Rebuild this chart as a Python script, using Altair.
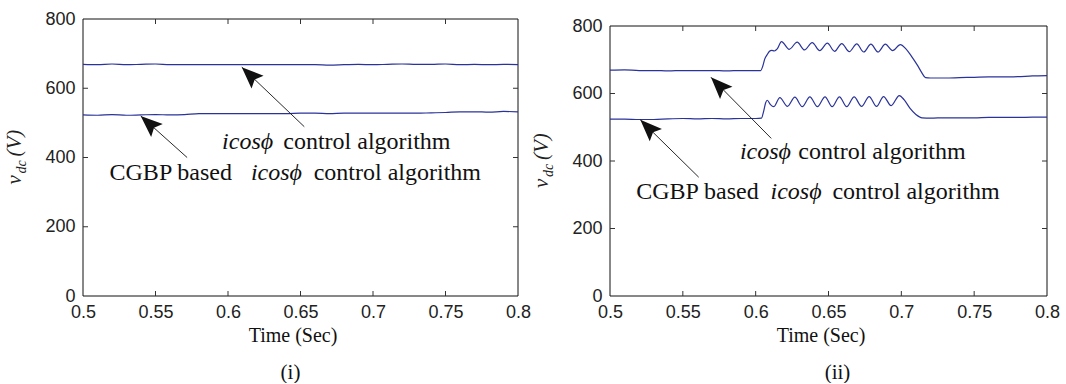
import math
import altair as alt
import pandas as pd

# ---------------- data ----------------
X_TICKS = [0.5, 0.55, 0.6, 0.65, 0.7, 0.75, 0.8]
Y_TICKS = [0, 200, 400, 600, 800]

# panel (i)
T_I = [0.50, 0.51, 0.52, 0.53, 0.54, 0.55, 0.56, 0.57, 0.58, 0.59, 0.60, 0.61, 0.62, 0.63, 0.64, 0.65,
       0.66, 0.67, 0.68, 0.69, 0.70, 0.71, 0.72, 0.73, 0.74, 0.75, 0.76, 0.77, 0.78, 0.79, 0.80]
VI_UP = [669, 668, 670, 668, 669, 670, 668, 668, 668, 668, 668, 668, 668, 668, 668, 668,
         668, 667, 668, 669, 668, 669, 670, 669, 669, 670, 668, 669, 668, 669, 668]
VI_LO = [523, 522, 524, 522, 523, 524, 523, 524, 527, 527, 527, 527, 527, 527, 527, 528,
         528, 527, 528, 528, 528, 528, 528, 528, 529, 530, 532, 532, 531, 533, 532]

# panel (ii)
T_II_UP = [0.50, 0.51, 0.52, 0.53, 0.54, 0.55, 0.56, 0.57, 0.58, 0.59, 0.60, 0.6035,
           0.6048, 0.6062, 0.6080, 0.6095, 0.6110, 0.6128, 0.6148, 0.6177,
           0.6230, 0.6285, 0.6335, 0.6388, 0.6440, 0.6492, 0.6542, 0.6591, 0.6643, 0.6694,
           0.6742, 0.6791, 0.6840, 0.6890, 0.6940, 0.6993,
           0.7030, 0.7070, 0.7110, 0.7140, 0.7166,
           0.72, 0.73, 0.74, 0.75, 0.76, 0.77, 0.78, 0.79, 0.80]
V_II_UP = [669, 670, 668, 668, 667, 668, 668, 668, 667, 668, 668, 668,
           680, 702, 716, 725, 728, 726, 732, 754,
           731, 752, 729, 751, 727, 749, 725, 748, 724, 747,
           723, 746, 723, 746, 727, 745,
           733, 710, 684, 662, 647,
           646, 646, 647, 648, 649, 649, 650, 652, 653]
T_II_LO = [0.50, 0.51, 0.52, 0.53, 0.54, 0.55, 0.56, 0.57, 0.58, 0.59, 0.60, 0.6040,
           0.6055, 0.6068, 0.6080, 0.6100, 0.6125, 0.6166,
           0.6218, 0.6269, 0.6320, 0.6372, 0.6424, 0.6476, 0.6525, 0.6575, 0.6625, 0.6676,
           0.6727, 0.6779, 0.6830, 0.6878, 0.6930, 0.6986,
           0.7020, 0.7060, 0.7100, 0.7143,
           0.72, 0.73, 0.74, 0.75, 0.76, 0.77, 0.78, 0.79, 0.80]
V_II_LO = [524, 524, 523, 523, 525, 526, 525, 526, 525, 526, 526, 527,
           548, 572, 580, 568, 561, 588,
           562, 589, 561, 590, 561, 590, 561, 590, 561, 590,
           562, 591, 562, 591, 564, 594,
           581, 556, 538, 528,
           527, 528, 528, 528, 529, 529, 529, 530, 530]

# annotation arrows: tail (x1,y1) -> head (x2,y2)
ARROWS_I_X1 = [0.6526, 0.5718]
ARROWS_I_Y1 = [489, 400]
ARROWS_I_X2 = [0.6095, 0.5398]
ARROWS_I_Y2 = [661, 520]
ARROWS_II_X1 = [0.6107, 0.5609]
ARROWS_II_Y1 = [467, 352]
ARROWS_II_X2 = [0.5693, 0.5208]
ARROWS_II_Y2 = [648, 522]

# annotation texts
TXT_I_ITAL_X = [0.5959, 0.6158]
TXT_I_ITAL_Y = [446, 355]
TXT_I_NORM = ["control algorithm", "CGBP based", "control algorithm"]
TXT_I_NORM_X = [0.6381, 0.5183, 0.6591]
TXT_I_NORM_Y = [446, 355, 355]
TXT_II_ITAL_X = [0.5892, 0.6102]
TXT_II_ITAL_Y = [428, 309]
TXT_II_NORM_X = [0.6293, 0.5180, 0.6527]
TXT_II_NORM_Y = [428, 309, 309]
ITAL_TEXT = "icos\u03d5"

LINE_COLOR = "#2a3399"
HEAD_PATH = "M0,0 L0.4,1 L0,0.82 L-0.4,1 Z"
FRAME = "#111"
H = 277  # common panel height (pixel box of each view)


def panel(t_up, v_up, t_lo, v_lo, ax1, ay1, ax2, ay2,
          itx, ity, ntxt, ntx, nty, w, top, caption, cap_dx):
    h = H
    ph = h - top  # height of the drawn plot box
    xs = alt.Scale(domain=[0.5, 0.8], nice=False, zero=False)
    ys = alt.Scale(domain=[0, 800], nice=False, zero=False, range=[h, top])
    xaxis = alt.Axis(values=X_TICKS, format=".2~f", title="Time (Sec)",
                     titleFont="Liberation Serif", titleFontSize=20, titleFontWeight="normal",
                     titleColor="#111", titlePadding=4, titleX=w / 2 - 8,
                     labelFont="Liberation Sans", labelFontSize=18, labelColor="#222",
                     labelPadding=7, ticks=False, domain=False, grid=False,
                     labelFlush=False, labelOverlap=False, labelBound=False)
    yaxis = alt.Axis(values=Y_TICKS, title="",
                     labelFont="Liberation Sans", labelFontSize=18, labelColor="#222",
                     labelPadding=8, ticks=False, domain=False, grid=False,
                     labelFlush=False, labelOverlap=False, labelBound=False)

    def X(f):
        return alt.X(f, scale=xs, axis=xaxis)

    def Y(f):
        return alt.Y(f, scale=ys, axis=yaxis)

    one = pd.DataFrame({"k": [0]})
    frame = alt.Chart(one).mark_rect(filled=False, stroke=FRAME, strokeWidth=1).encode(
        x=alt.value(0), x2=alt.value(w), y=alt.value(top), y2=alt.value(h))

    df = pd.concat([
        pd.DataFrame({"t": t_up, "v": v_up, "s": "a"}),
        pd.DataFrame({"t": t_lo, "v": v_lo, "s": "b"}),
    ])
    lines = alt.Chart(df).mark_line(color=LINE_COLOR, strokeWidth=1.2, interpolate="monotone").encode(
        x=X("t:Q"), y=Y("v:Q"), detail="s:N")

    angs = []
    for a, b, c, d in zip(ax1, ay1, ax2, ay2):
        dx = (c - a) / 0.3 * w
        dy = -(d - b) / 800 * ph
        angs.append((math.degrees(math.atan2(dx, -dy)) + 360) % 360)
    adf = pd.DataFrame({"t": ax1, "v": ay1, "t2": ax2, "v2": ay2})
    shafts = alt.Chart(adf).mark_rule(color="#111", strokeWidth=0.9).encode(
        x=X("t:Q"), y=Y("v:Q"), x2="t2:Q", y2="v2:Q")
    hdf = pd.DataFrame({"t": ax2, "v": ay2, "ang": angs})
    heads = alt.Chart(hdf).mark_point(shape=HEAD_PATH, size=1900, filled=True, color="#111",
                                      opacity=1, strokeWidth=0).encode(
        x=X("t:Q"), y=Y("v:Q"), angle=alt.Angle("ang:Q", scale=None))

    idf = pd.DataFrame({"t": itx, "v": ity, "txt": [ITAL_TEXT] * len(itx)})
    ndf = pd.DataFrame({"t": ntx, "v": nty, "txt": ntxt})
    ital = alt.Chart(idf).mark_text(align="left", baseline="middle", font="Liberation Serif",
                                    fontStyle="italic", fontSize=24, color="#111").encode(
        x=X("t:Q"), y=Y("v:Q"), text="txt:N")
    norm = alt.Chart(ndf).mark_text(align="left", baseline="middle", font="Liberation Serif",
                                    fontSize=24, color="#111").encode(
        x=X("t:Q"), y=Y("v:Q"), text="txt:N")

    # inward tick marks (MATLAB style), on all four sides
    inner_x = [v for v in X_TICKS if 0.5 < v < 0.8]
    inner_y = [v for v in Y_TICKS if 0 < v < 800]
    txdf = pd.DataFrame({"t": inner_x})
    tydf = pd.DataFrame({"v": inner_y})
    tk_bottom = alt.Chart(txdf).mark_rule(color="#333", strokeWidth=1).encode(
        x=X("t:Q"), y=alt.value(h), y2=alt.value(h - 5))
    tk_top = alt.Chart(txdf).mark_rule(color="#333", strokeWidth=1).encode(
        x=X("t:Q"), y=alt.value(top), y2=alt.value(top + 5))
    tk_left = alt.Chart(tydf).mark_rule(color="#333", strokeWidth=1).encode(
        y=Y("v:Q"), x=alt.value(0), x2=alt.value(5))
    tk_right = alt.Chart(tydf).mark_rule(color="#333", strokeWidth=1).encode(
        y=Y("v:Q"), x=alt.value(w), x2=alt.value(w - 5))

    c = top + ph / 2 + 27
    yt_v = alt.Chart(one).mark_text(angle=270, align="left", baseline="alphabetic",
                                    font="Liberation Serif", fontStyle="italic", fontSize=21,
                                    color="#222").encode(
        x=alt.value(-62), y=alt.value(c), text=alt.value("v"))
    yt_dc = alt.Chart(one).mark_text(angle=270, align="left", baseline="alphabetic",
                                     font="Liberation Serif", fontStyle="italic", fontSize=14,
                                     color="#222").encode(
        x=alt.value(-57), y=alt.value(c - 11), text=alt.value("dc"))
    yt_V = alt.Chart(one).mark_text(angle=270, align="left", baseline="alphabetic",
                                    font="Liberation Serif", fontStyle="italic", fontSize=21,
                                    color="#222").encode(
        x=alt.value(-62), y=alt.value(c - 28), text=alt.value("(V)"))
    cap = alt.Chart(one).mark_text(align="center", baseline="middle", font="Liberation Serif",
                                   fontSize=21, color="#111").encode(
        x=alt.value(w / 2 + cap_dx), y=alt.value(h + 77), text=alt.value(caption))

    layers = [frame, lines, shafts, heads, ital, norm, tk_bottom, tk_top, tk_left, tk_right,
              yt_v, yt_dc, yt_V, cap]
    return alt.layer(*layers).properties(
        width=w, height=h, view=alt.ViewBackground(strokeOpacity=0))


p1 = panel(T_I, VI_UP, T_I, VI_LO, ARROWS_I_X1, ARROWS_I_Y1, ARROWS_I_X2, ARROWS_I_Y2,
           TXT_I_ITAL_X, TXT_I_ITAL_Y, TXT_I_NORM, TXT_I_NORM_X, TXT_I_NORM_Y,
           435, 0, "(i)", -10)
p2 = panel(T_II_UP, V_II_UP, T_II_LO, V_II_LO, ARROWS_II_X1, ARROWS_II_Y1, ARROWS_II_X2, ARROWS_II_Y2,
           TXT_II_ITAL_X, TXT_II_ITAL_Y, TXT_I_NORM, TXT_II_NORM_X, TXT_II_NORM_Y,
           437, 7, "(ii)", 9)

chart = alt.hconcat(p1, p2, spacing=0).properties(
    padding={"left": 4, "top": 10, "right": 0, "bottom": 0},
    background="white",
)

chart.save("out.html", embed_options={"renderer": "svg", "actions": False})
